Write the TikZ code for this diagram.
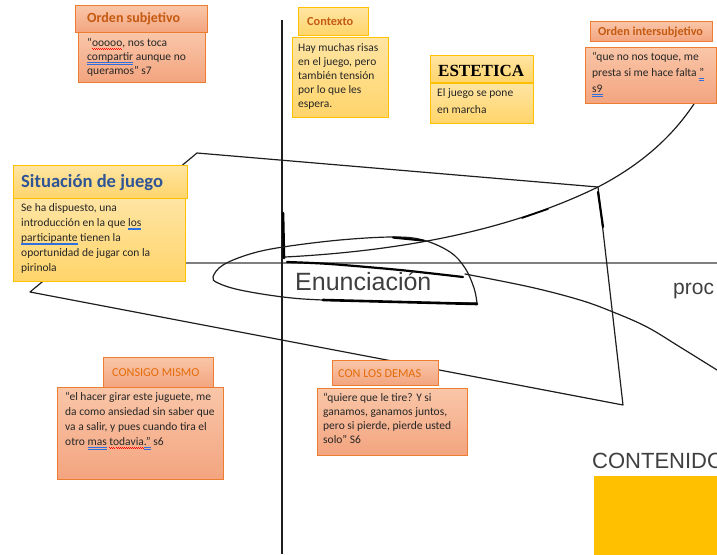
\documentclass[tikz,border=0pt]{standalone}
\usepackage{fontspec}
\setmainfont{Carlito}
\newfontfamily\arialf{Liberation Sans}
\newfontfamily\timesf{Liberation Serif}
\definecolor{salB}{HTML}{ED7D31}
\definecolor{salT}{HTML}{F9C6A8}
\definecolor{salD}{HTML}{F3A47F}
\definecolor{yelB}{HTML}{FFC000}
\definecolor{yelT}{HTML}{FFE5A3}
\definecolor{yelD}{HTML}{FFD46A}
\definecolor{txtc}{HTML}{262626}
\definecolor{hdbrown}{HTML}{C55A11}
\definecolor{hdorange}{HTML}{E36C0A}
\definecolor{hdblue}{HTML}{2F5597}
\definecolor{slate}{HTML}{3F3F3F}
\definecolor{lineC}{HTML}{1E1E1E}
\definecolor{axisG}{HTML}{7F7F7F}
\definecolor{amber}{HTML}{FFC000}
\definecolor{ulblue}{HTML}{2F6FE0}
\newsavebox\myulbox
\newcommand\bdu[1]{\sbox\myulbox{#1}\rlap{\color{ulblue}\raisebox{-2.4pt}{\rule{\wd\myulbox}{0.55pt}}}\rlap{\color{ulblue}\raisebox{-3.8pt}{\rule{\wd\myulbox}{0.55pt}}}\usebox\myulbox}
\newcommand\rwu[1]{\sbox\myulbox{#1}\rlap{\color{red}\hbox to \wd\myulbox{\xleaders\hbox{\raisebox{-2.4pt}{\rule{1pt}{0.6pt}}\raisebox{-3.4pt}{\rule{1pt}{0.6pt}}}\hfill}}\usebox\myulbox}
\tikzset{
  salbox/.style={draw=salB, line width=1.1pt, top color=salT, bottom color=salD, inner sep=0pt, anchor=north west},
  yelbox/.style={draw=yelB, line width=1.1pt, top color=yelT, bottom color=yelD, inner sep=0pt, anchor=north west},
  bodytxt/.style={anchor=north west, inner sep=0pt, align=left, text=txtc, font=\fontsize{11.5}{14}\selectfont},
  hdtxt/.style={anchor=base west, inner sep=0pt},
  sketch/.style={draw=lineC, line width=1.2pt, line join=round, line cap=round},
  heavy/.style={draw=black, line width=2.6pt, line cap=round},
}
\begin{document}
\begin{tikzpicture}[x=1pt,y=-1pt]
\useasboundingbox (0,0) rectangle (717,554);
\clip (0,0) rectangle (717,554);
% axes
\coordinate (vt) at (282,20);
\coordinate (vb) at (282,554);
\coordinate (hl) at (20,263);
\coordinate (hr) at (717,263);
\draw[draw=axisG, line width=2pt] (hl) -- (hr);
\draw[draw=lineC, line width=1.4pt] (vt) -- (vb);
% quadrilateral
\coordinate (q1) at (197,153);
\coordinate (q2) at (598,187);
\coordinate (q3) at (623,405);
\coordinate (q4) at (30,292);
\draw[sketch] (q1) -- (q2) -- (q3) -- (q4) -- cycle;
\draw[heavy, line width=2.2pt] (598,192) -- (603,227);
\draw[heavy] (283,213) -- (284,258);
% big curve
\draw[sketch] (285,257) .. controls (420,250) and (520,225) .. (598,187) .. controls (650,160) and (685,125) .. (708,80);
\draw[heavy, line width=1.6pt] (522,218) -- (548,209);
% loop
\draw[sketch] plot[smooth, tension=0.6] coordinates {(477,303) (400,302) (323,300) (283,297) (240,290) (218,283) (213,277) (223,265) (250,254) (283,247) (340,240) (393,237) (423,240) (450,252) (465,268) (474,288) (477,303)};
\draw[heavy, line width=2.2pt] (393,237.5) -- (423,240.5);
\draw[heavy] (323,300) -- (400,302) -- (477,304);
\draw[heavy, line width=2.2pt] plot[smooth] coordinates {(287,262) (330,264) (400,270) (463,277)};
% right curve
\draw[sketch] plot[smooth, tension=0.6] coordinates {(465,274) (530,287) (580,300) (613,312) (647,327) (680,347) (717,370)};
% labels on drawing
\node[hdtxt, font=\arialf\fontsize{25}{25}\selectfont, text=slate] (enun) at (295,290) {Enunciación};
\node[hdtxt, font=\arialf\fontsize{21}{21}\selectfont, text=slate] (proc) at (673,294) {proc};
\node[hdtxt, font=\arialf\fontsize{22}{22}\selectfont, text=slate] (cont) at (592,468) {CONTENIDO};
\path (594,476) node[anchor=north west, fill=amber, inner sep=0pt, minimum width=125pt, minimum height=80pt] (amb) {};
% Orden subjetivo
\path (78,32) node[salbox, minimum width=127pt, minimum height=50pt] (osb) {};
\path (75,5) node[salbox, minimum width=132pt, minimum height=27pt] (osh) {};
\node[hdtxt, font=\bfseries\fontsize{14}{14}\selectfont, text=hdbrown] (osht) at (87,23) {Orden subjetivo};
\node[bodytxt] (osbt) at (87,38) {“\rwu{ooooo}, nos toca\\\bdu{compartir} aunque no\\queramos” s7};
% Contexto
\path (292,37) node[yelbox, minimum width=96pt, minimum height=80pt] (cxb) {};
\path (298,7) node[yelbox, minimum width=70pt, minimum height=28pt] (cxh) {};
\node[hdtxt, font=\bfseries\fontsize{12.3}{12.3}\selectfont, text=hdbrown] (cxht) at (307,25) {Contexto};
\node[bodytxt] (cxbt) at (298,43) {Hay muchas risas\\en el juego, pero\\también tensión\\por lo que les\\espera.};
% ESTETICA
\path (430,83) node[yelbox, minimum width=103pt, minimum height=40pt] (esb) {};
\path (430,55) node[yelbox, minimum width=103pt, minimum height=27pt] (esh) {};
\node[hdtxt, font=\timesf\bfseries\fontsize{17}{17}\selectfont, text=black] (esht) at (438,76) {ESTETICA};
\node[bodytxt, font=\fontsize{11.5}{17}\selectfont] (esbt) at (437,88) {El juego se pone\\en marcha};
% Orden intersubjetivo
\path (585,47) node[salbox, minimum width=131pt, minimum height=56pt] (oib) {};
\path (590,21) node[salbox, minimum width=122pt, minimum height=20pt] (oih) {};
\node[hdtxt, font=\bfseries\fontsize{12.2}{12.2}\selectfont, text=hdbrown] (oiht) at (598,35.5) {Orden intersubjetivo};
\node[bodytxt, font=\fontsize{11.5}{16}\selectfont] (oibt) at (592,52) {“que no nos toque, me\\presta si me hace falta \bdu{”}\\\bdu{s9}};
% Situacion de juego
\path (13,198) node[yelbox, minimum width=172pt, minimum height=83pt] (sjb) {};
\path (13,165) node[yelbox, minimum width=174pt, minimum height=33pt] (sjh) {};
\node[hdtxt, font=\bfseries\fontsize{18.6}{18.6}\selectfont, text=hdblue] (sjht) at (21,187) {Situación de juego};
\node[bodytxt, font=\fontsize{11.5}{15}\selectfont] (sjbt) at (21,203) {Se ha dispuesto, una\\introducción en la que \bdu{los}\\\bdu{participante} tienen la\\oportunidad de jugar con la\\pirinola};
% CONSIGO MISMO
\path (57,387) node[salbox, minimum width=166pt, minimum height=92pt] (cmb) {};
\path (103,357) node[salbox, minimum width=110pt, minimum height=30pt] (cmh) {};
\node[hdtxt, font=\fontsize{12.2}{12.2}\selectfont, text=hdorange] (cmht) at (112,376) {CONSIGO MISMO};
\node[bodytxt, font=\fontsize{11.5}{15}\selectfont] (cmbt) at (65,392) {“el hacer girar este juguete, me\\da como ansiedad sin saber que\\va a salir, y pues cuando tira el\\otro \bdu{mas} \rwu{todavia}\bdu{.”} s6};
% CON LOS DEMAS
\path (317,388) node[salbox, minimum width=150pt, minimum height=67pt] (cdb) {};
\path (332,360) node[salbox, minimum width=106pt, minimum height=25pt] (cdh) {};
\node[hdtxt, font=\fontsize{12.2}{12.2}\selectfont, text=hdorange] (cdht) at (338,377) {CON LOS DEMAS};
\node[bodytxt] (cdbt) at (323,393) {“quiere que le tire? Y si\\ganamos, ganamos juntos,\\pero si pierde, pierde usted\\solo” S6};
\end{tikzpicture}
\end{document}
